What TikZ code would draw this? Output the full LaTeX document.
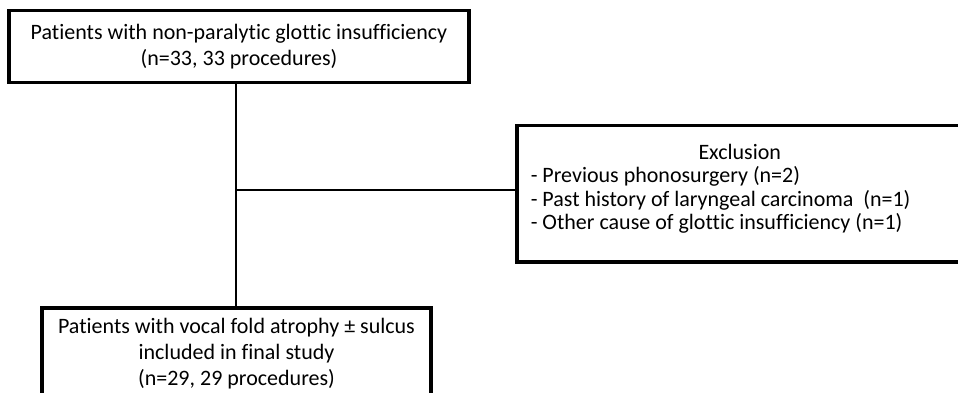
\documentclass[tikz,border=0pt]{standalone}
\usepackage{fontspec}
\setmainfont{Carlito}[Ligatures={NoCommon,NoContextual}]
\begin{document}
\begin{tikzpicture}[x=1pt,y=-1pt,
  box/.style={draw=black,line width=3.5pt,inner sep=0pt,font=\fontsize{22}{26}\selectfont},
  conn/.style={draw=black,line width=1.1pt}]
\useasboundingbox (0,0) rectangle (958,393);
\node[box,align=center,minimum width=460pt,minimum height=72pt] (top) at (239,46.5)
  {Patients with non-paralytic glottic insufficiency\\(n=33, 33 procedures)};
\node[box,align=center,minimum width=389pt,minimum height=92pt,anchor=north] (bot) at (236.5,306)
  {Patients with vocal fold atrophy \textpm\ sulcus\\included in final study\\(n=29, 29 procedures)};
\node[box,anchor=north west,minimum width=446pt,minimum height=136pt,
  font=\fontsize{22}{23.5}\selectfont] (excl) at (515,124)
  {\parbox{418pt}{\centering Exclusion\par\raggedright
  - Previous phonosurgery (n=2)\par
  - Past history of laryngeal carcinoma~ (n=1)\par
  - Other cause of glottic insufficiency (n=1)\par\vspace*{10pt}}};
\coordinate (j) at (236,190);
\draw[conn] (top.south -| j) -- (bot.north -| j);
\draw[conn] (j) -- (excl.west |- j);
\end{tikzpicture}
\end{document}
